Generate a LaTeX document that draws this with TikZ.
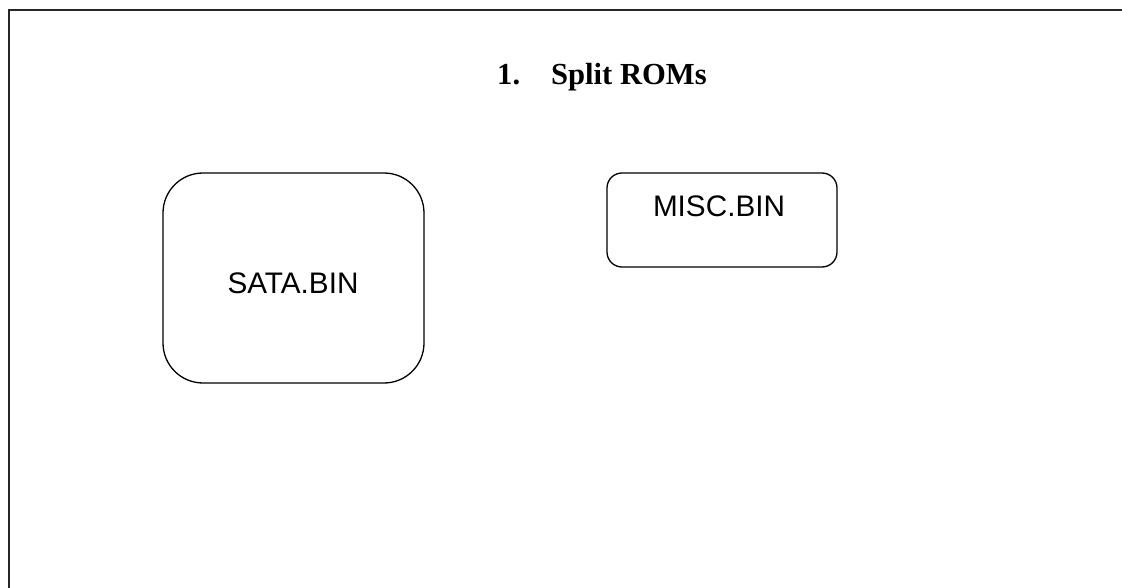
\documentclass[tikz,border=0pt]{standalone}
\usepackage{fontspec}
\setmainfont{Liberation Serif}
\setsansfont{Liberation Sans}
\begin{document}
\begin{tikzpicture}[x=1pt,y=-1pt,
  frameline/.style={line width=2.4pt,draw=black!85},
  binbox/.style={draw=black,line width=1.3pt},
  bintext/.style={inner sep=0pt,font=\sffamily\fontsize{29.7}{34}\selectfont},
  titletext/.style={font=\bfseries\fontsize{30.6}{36}\selectfont,inner sep=0pt,anchor=base west}]
\useasboundingbox (0,0) rectangle (1122,588);
\fill[white] (0,0) rectangle (1122,588);
% page frame: only the left and top edges fall inside the view
\coordinate (fbl) at (9,600);
\coordinate (ftl) at (9,10);
\coordinate (ftr) at (1130,10);
\draw[frameline] (fbl) -- (ftl) -- (ftr);
% heading
\node[titletext] (title) at (497,85) {1.\hspace{31pt}Split ROMs};
% ROM image boxes
\draw[binbox,rounded corners=40pt] (163,173) rectangle (424,383);
\node[bintext] (sata) at (293,283.5) {SATA.BIN};
\draw[binbox,rounded corners=15pt] (607,173) rectangle (837,267);
\node[bintext] (misc) at (719,206.5) {MISC.BIN};
\end{tikzpicture}
\end{document}
